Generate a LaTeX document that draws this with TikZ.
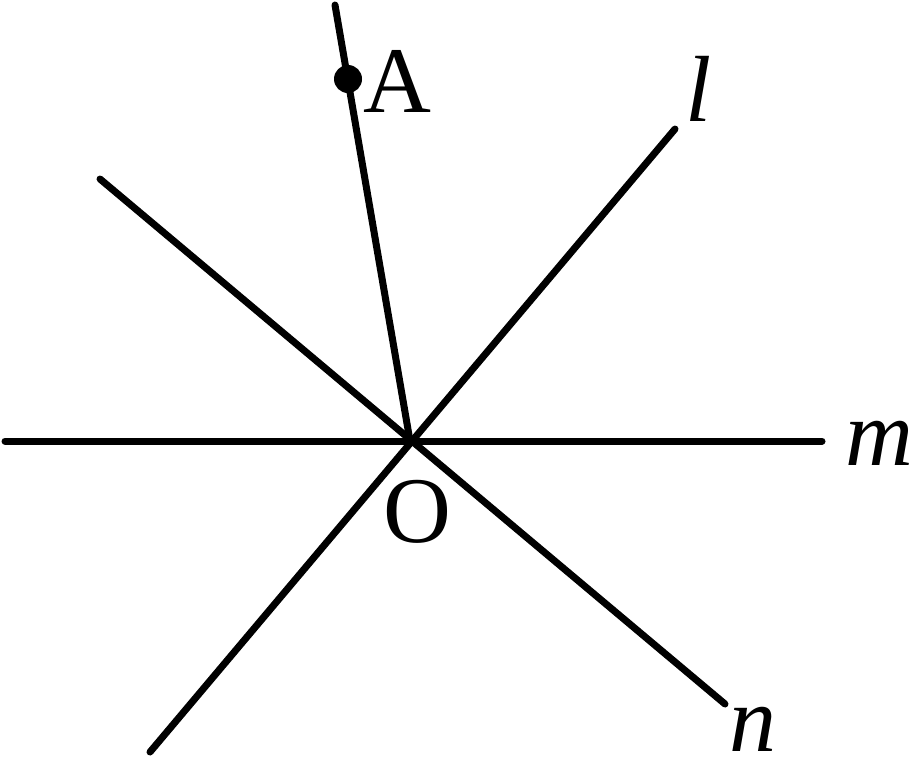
\documentclass[tikz,border=0pt]{standalone}
\usepackage{fontspec}
\setmainfont{Liberation Serif}
\begin{document}
\begin{tikzpicture}[x=1pt,y=-1pt,
  ln/.style={line width=7pt,line cap=round},
  lbl/.style={inner sep=0pt,anchor=base,font=\fontsize{94}{100}\selectfont}]
\useasboundingbox (0,0) rectangle (920,780);
\coordinate (O) at (410,441);
\coordinate (mL) at (5,441);
\coordinate (mR) at (822,441);
\coordinate (lT) at (675,129);
\coordinate (lB) at (150,752);
\coordinate (nT) at (100,179);
\coordinate (nB) at (725,704);
\coordinate (aT) at (335,5);
\coordinate (A) at (348,79);
\draw[ln] (mL) -- (mR);
\draw[ln] (lB) -- (lT);
\draw[ln] (nT) -- (nB);
\draw[ln] (aT) -- (O);
\fill (A) circle (14);
\node[lbl] (tA) at (397,112) {A};
\node[lbl] (tO) at (417,542) {O};
\node[lbl] (tl) at (699,121) {\itshape l};
\node[lbl] (tm) at (879,465) {\itshape m};
\node[lbl] (tn) at (753,751) {\itshape n};
\end{tikzpicture}
\end{document}
